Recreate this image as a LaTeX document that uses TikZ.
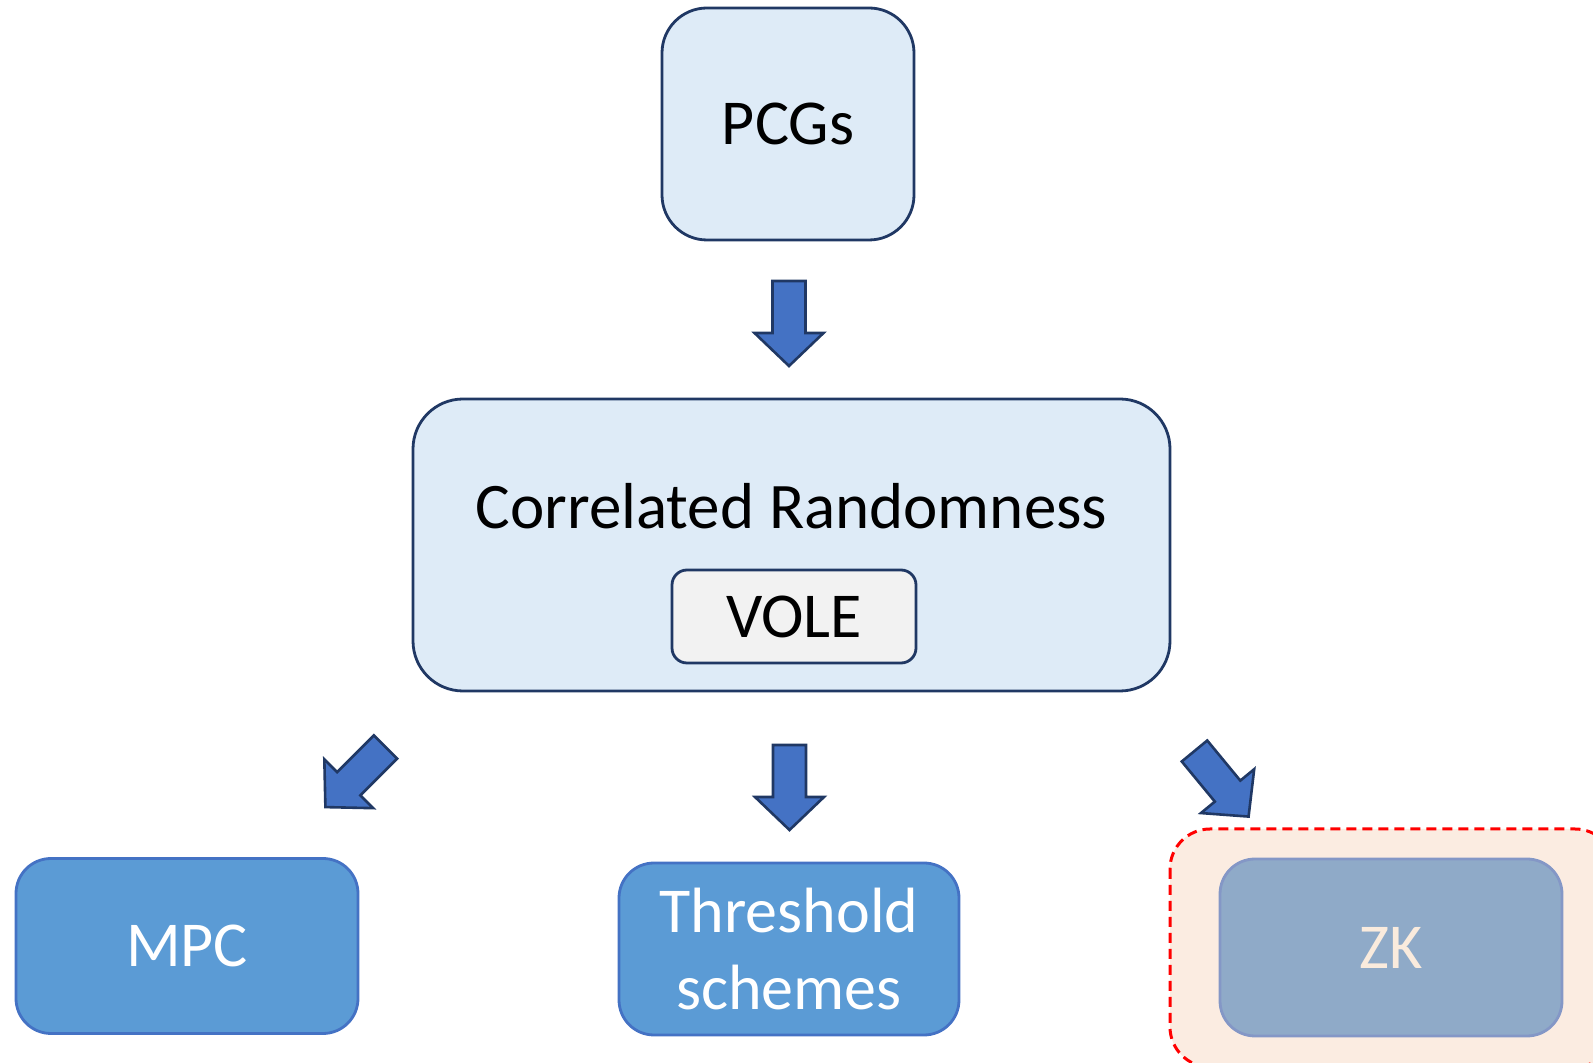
\documentclass[tikz,border=0pt]{standalone}
\usepackage{fontspec}
\setmainfont{Carlito}
\usepackage{tikz}
\usetikzlibrary{positioning}
\definecolor{boxfill}{HTML}{DEEBF7}
\definecolor{boxline}{HTML}{203864}
\definecolor{volefill}{HTML}{F2F2F2}
\definecolor{appfill}{HTML}{5B9BD5}
\definecolor{appline}{HTML}{4472C4}
\definecolor{zkfill}{HTML}{8FAAC8}
\definecolor{zkline}{HTML}{8497C6}
\definecolor{zktext}{HTML}{FAEBDD}
\definecolor{zkback}{HTML}{FBECE1}
\definecolor{arrowcol}{HTML}{4472C4}

\tikzset{
  arrowbox/.style={fill=arrowcol,draw=boxline,line width=2.6bp,line join=miter},
  barrow/.pic={
    \draw[arrowbox] (0bp,-16.5bp) -- (52bp,-16.5bp) -- (52bp,-34.5bp) -- (85bp,0bp)
      -- (52bp,34.5bp) -- (52bp,16.5bp) -- (0bp,16.5bp) -- cycle;
  },
}

\begin{document}
\begin{tikzpicture}[
  big/.style={font=\fontsize{64bp}{77bp}\selectfont},
  topbox/.style={draw=boxline,fill=boxfill,line width=2.8bp,rounded corners=45bp,big},
  appbox/.style={draw=appline,fill=appfill,line width=2.8bp,rounded corners=35bp,
    text=white,big,align=center,minimum width=342bp,minimum height=175bp},
]
\useasboundingbox (0,0) rectangle (1593bp,1063bp);
\clip (0,0) rectangle (1593bp,1063bp);
%%
\node (PCG) at (788bp,939bp) [topbox,minimum width=252bp,minimum height=232bp] {PCGs};
  \node (CR) at (791.5bp,518bp) [topbox,rounded corners=50bp,minimum width=757bp,minimum height=292bp] {};
  \node (CRtext) at (791.5bp,557bp) [font=\fontsize{65bp}{78bp}\selectfont] {Correlated Randomness};
  \node (VOLE) at (794bp,446.5bp) [draw=boxline,fill=volefill,line width=2.8bp,rounded corners=15bp,
    minimum width=244bp,minimum height=93bp,big] {VOLE};
  % applications
  \node (MPC) at (187bp,117bp) [appbox] {MPC};
  \node (TS) at (789bp,114bp) [appbox,minimum width=340bp,minimum height=172bp] {Threshold\\schemes};
  \draw [red,fill=zkback,line width=3bp,dash pattern=on 10bp off 6bp,rounded corners=40bp]
    (1170bp,234bp) rectangle (1615bp,-4bp);
  \node (ZK) at (1391bp,115.5bp) [appbox,draw=zkline,fill=zkfill,text=zktext,minimum height=177bp] {ZK};
  % block arrows
  \pic [rotate=-90] at (789bp,782bp) {barrow};
  \pic [rotate=-90] at (789.5bp,318bp) {barrow};
  \pic [rotate=225] at (385.5bp,316bp) {barrow};
  \pic [rotate=-50.5] at (1194.5bp,312bp) {barrow};
%
\end{tikzpicture}
\end{document}
